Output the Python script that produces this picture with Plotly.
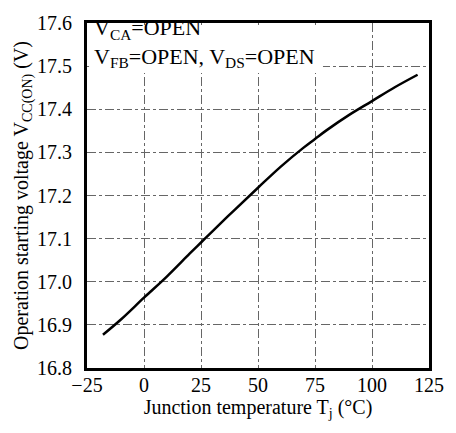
import plotly.graph_objects as go

temp = [-18, -10, 0, 10, 20, 25, 30, 40, 50, 60, 70, 75, 80, 90, 100, 110, 120]
vcc = [16.877, 16.913, 16.963, 17.012, 17.065, 17.091, 17.117, 17.168, 17.218, 17.267, 17.311, 17.331, 17.351, 17.387, 17.419, 17.451, 17.480]

x_ticks = [-25, 0, 25, 50, 75, 100, 125]
x_labels = ["−25", "0", "25", "50", "75", "100", "125"]
y_ticks = [16.8, 16.9, 17.0, 17.1, 17.2, 17.3, 17.4, 17.5, 17.6]
y_labels = ["16.8", "16.9", "17.0", "17.1", "17.2", "17.3", "17.4", "17.5", "17.6"]

font = "'Liberation Serif', 'Times New Roman', 'DejaVu Serif', serif"

fig = go.Figure()
fig.add_trace(go.Scatter(x=temp, y=vcc, mode="lines",
                         line=dict(color="black", width=2.5, shape="spline", smoothing=1),
                         showlegend=False, hoverinfo="skip"))

fig.update_layout(
    width=456, height=433,
    margin=dict(l=87, r=15, t=13, b=65),
    paper_bgcolor="white", plot_bgcolor="white",
    font=dict(family=font, color="black", size=20),
    xaxis=dict(range=[-25, 125], tickmode="array", tickvals=x_ticks, ticktext=x_labels,
               showgrid=True, gridcolor="#666666", griddash="dashdot", gridwidth=1,
               showline=True, linecolor="black", linewidth=3, mirror=True, ticks="",
               zeroline=False, tickfont=dict(size=20, family=font), ticklabelstandoff=-3,
               title=dict(text="Junction temperature T<sub>j</sub> (°C)", font=dict(size=20, family=font), standoff=0)),
    yaxis=dict(range=[16.8, 17.6], tickmode="array", tickvals=y_ticks, ticktext=y_labels,
               showgrid=True, gridcolor="#666666", griddash="dashdot", gridwidth=1,
               showline=True, linecolor="black", linewidth=3, mirror=True, ticks="",
               zeroline=False, tickfont=dict(size=20, family=font), ticklabelstandoff=8,
               title=dict(text="Operation starting voltage V<sub>CC(ON)</sub> (V)", font=dict(size=20, family=font), standoff=4)),
)

# white panel behind the condition text (hides grid there)
fig.add_shape(type="rect", xref="x domain", yref="y domain", x0=0.006, x1=0.69, y0=0.855, y1=0.994,
              fillcolor="white", line=dict(width=0), layer="above")

fig.add_annotation(xref="paper", yref="paper", x=0.015, y=1.03, xanchor="left", yanchor="top",
                   align="left", showarrow=False,
                   text="V<sub>CA</sub>=OPEN<br>V<sub>FB</sub>=OPEN, V<sub>DS</sub>=OPEN",
                   font=dict(size=22, family=font, color="black"))

fig.write_html("out.html")
